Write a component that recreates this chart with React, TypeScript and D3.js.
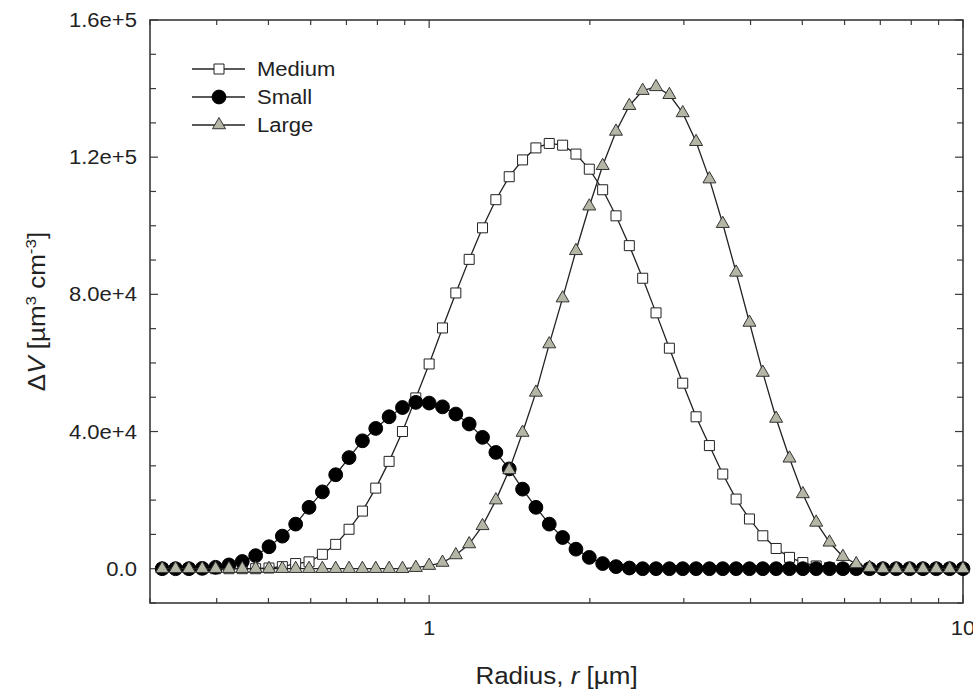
import React from 'react';
import * as d3 from 'd3';

// radius samples (µm), 40 per decade
const radius = [
    0.3162, 0.3350, 0.3548, 0.3758, 0.3981, 0.4217, 0.4467, 0.4732, 0.5012, 0.5309,
    0.5623, 0.5957, 0.6310, 0.6683, 0.7079, 0.7499, 0.7943, 0.8414, 0.8913, 0.9441,
    1.0000, 1.0593, 1.1220, 1.1885, 1.2589, 1.3335, 1.4125, 1.4962, 1.5849, 1.6788,
    1.7783, 1.8836, 1.9953, 2.1135, 2.2387, 2.3714, 2.5119, 2.6607, 2.8184, 2.9854,
    3.1623, 3.3497, 3.5481, 3.7584, 3.9811, 4.2170, 4.4668, 4.7315, 5.0119, 5.3088,
    5.6234, 5.9566, 6.3096, 6.6834, 7.0795, 7.4989, 7.9433, 8.4140, 8.9125, 9.4406,
    10.0000,
];

const medium = [
    0, 0, 0, 0, 0, 0, 0, 0, 200, 600,
    1500, 2000, 4200, 7100, 11500, 16800, 23500, 31300, 40000, 49800,
    59700, 70200, 80400, 90200, 99400, 107600, 114300, 119200, 122700, 124000,
    123500, 120900, 116500, 110500, 102900, 94200, 84700, 74600, 64300, 54100,
    44300, 35900, 27600, 20300, 14500, 9600, 5900, 3300, 1800, 800,
    300, 100, 0, 0, 0, 0, 0, 0, 0, 0,
    0,
];

const small = [
    0, 0, 0, 100, 400, 1100, 2100, 3800, 6400, 9500,
    13000, 17900, 22400, 27400, 32400, 37300, 40900, 44300, 47000, 48500,
    48300, 47200, 45100, 42200, 38300, 33900, 29100, 23200, 17900, 13000,
    9100, 5700, 3300, 1500, 600, 200, 0, 0, 0, 0,
    0, 0, 0, 0, 0, 0, 0, 0, 0, 0,
    0, 0, 0, 0, 0, 0, 0, 0, 0, 0,
    0,
];

const large = [
    0, 0, 0, 0, 0, 0, 0, 0, 0, 0,
    0, 0, 0, 0, 0, 0, 0, 0, 0, 300,
    900, 1800, 4000, 7200, 12500, 20000, 28800, 39700, 51400, 65500,
    78900, 92700, 105700, 117500, 127500, 135000, 139400, 140500, 138200, 132900,
    124500, 113600, 100600, 86400, 71800, 57200, 43800, 32200, 21800, 13500,
    7700, 3500, 1400, 300, 0, 0, 0, 0, 0, 0,
    0,
];

const xTickValues = [1, 10];
const xTickLabels = ['1', '10'];
const yTickValues = [0, 40000, 80000, 120000, 160000];
const yTickLabels = ['0.0', '4.0e+4', '8.0e+4', '1.2e+5', '1.6e+5'];

const W = 973;
const H = 691;
const left = 150, right = 963, top = 20, bottom = 603;
const FONT = 'Liberation Sans, Arial, sans-serif';
const STRETCH = 1.13;

const x = d3.scaleLog().domain([0.3, 10]).range([left, right]);
const y = d3.scaleLinear().domain([-10000, 160000]).range([bottom, top]);

const series = [
    { name: 'Medium', values: medium, type: d3.symbolSquare, size: 100, fill: '#ffffff', stroke: '#222' },
    { name: 'Small', values: small, type: d3.symbolCircle, size: 150, fill: '#000000', stroke: '#000' },
    { name: 'Large', values: large, type: d3.symbolTriangle, size: 73, fill: '#b6b6a6', stroke: '#333' },
];

const SText = ({ x, y, anchor = 'start', size = 19.5, rotate = 0, children }: any) => (
    <text
        transform={`translate(${x},${y}) rotate(${rotate}) scale(${STRETCH},1)`}
        textAnchor={anchor}
        fontFamily={FONT}
        fontSize={size}
        fill="#222"
    >
        {children}
    </text>
);

export default function App() {
    const line = d3.line<number>()
        .x((_, i) => x(radius[i]))
        .y(d => y(d));

    const xMinor = x.ticks();
    const yMinor = y.ticks(17);
    const frame = '#3a3a3a';

    return (
        <svg width={W} height={H} style={{ position: 'absolute', left: 0, top: 0, background: '#fff' }}>
            {/* ticks, mirrored on all four sides, pointing inward */}
            {xMinor.map(t => {
                const major = xTickValues.includes(t);
                const len = major ? 8 : 5;
                return (
                    <g key={'xt' + t} stroke={frame} strokeWidth={1.2}>
                        <line x1={x(t)} x2={x(t)} y1={bottom} y2={bottom - len} />
                        <line x1={x(t)} x2={x(t)} y1={top} y2={top + len} />
                    </g>
                );
            })}
            {yMinor.map(t => {
                const major = yTickValues.includes(t);
                const len = major ? 8 : 6;
                return (
                    <g key={'yt' + t} stroke={frame} strokeWidth={1.2}>
                        <line x1={left} x2={left + len} y1={y(t)} y2={y(t)} />
                        <line x1={right} x2={right - len} y1={y(t)} y2={y(t)} />
                    </g>
                );
            })}
            <rect x={left} y={top} width={right - left} height={bottom - top}
                fill="none" stroke={frame} strokeWidth={1.6} />

            {xTickValues.map((t, i) => (
                <SText key={'xl' + t} x={x(t)} y={635} anchor="middle">{xTickLabels[i]}</SText>
            ))}
            {yTickValues.map((t, i) => (
                <SText key={'yl' + t} x={137} y={y(t) + 7} anchor="end">{yTickLabels[i]}</SText>
            ))}

            {/* series */}
            {series.map(s => (
                <g key={s.name}>
                    <path d={line(s.values) || ''} fill="none" stroke="#222" strokeWidth={1.3} />
                    {s.values.map((v, i) => (
                        <path key={i}
                            d={d3.symbol().type(s.type).size(s.size)() || ''}
                            transform={`translate(${x(radius[i])},${y(v)})`}
                            fill={s.fill} stroke={s.stroke} strokeWidth={1} />
                    ))}
                </g>
            ))}

            {/* legend */}
            {series.map((s, i) => {
                const ly = 69 + i * 28;
                return (
                    <g key={'lg' + s.name}>
                        <line x1={192} x2={245} y1={ly} y2={ly} stroke="#222" strokeWidth={1.3} />
                        <path d={d3.symbol().type(s.type).size(s.size)() || ''}
                            transform={`translate(219,${ly})`}
                            fill={s.fill} stroke={s.stroke} strokeWidth={1} />
                        <SText x={257} y={ly + 7}>{s.name}</SText>
                    </g>
                );
            })}

            {/* axis titles */}
            <SText x={(left + right) / 2} y={684} anchor="middle" size={23}>
                Radius, <tspan fontStyle="italic">r</tspan> [µm]
            </SText>
            <SText x={45} y={(top + bottom) / 2} anchor="middle" size={23} rotate={-90}>
                Δ<tspan fontStyle="italic">V</tspan> [µm<tspan fontSize={15} dy={-9}>3</tspan>
                <tspan dy={9}> cm</tspan><tspan fontSize={15} dy={-9}>-3</tspan><tspan dy={9}>]</tspan>
            </SText>
        </svg>
    );
}
